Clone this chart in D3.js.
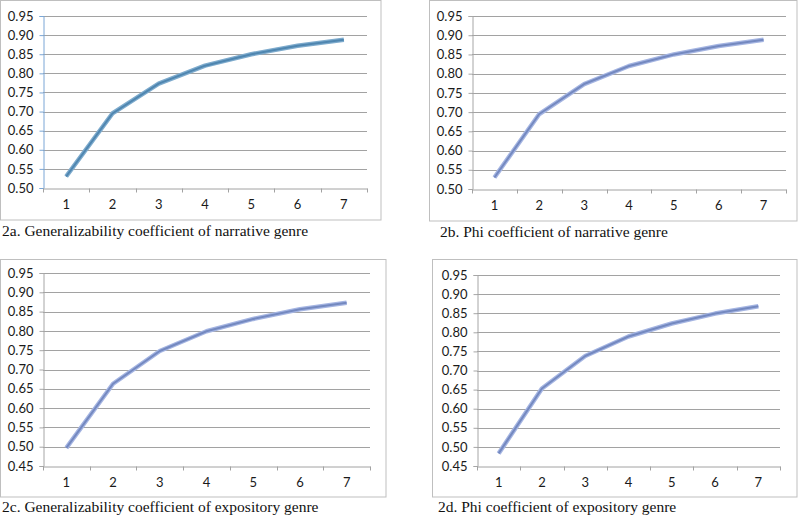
<!DOCTYPE html>
<html><head><meta charset="utf-8">
<script src="https://cdn.jsdelivr.net/npm/d3@7"></script>
<style>body{margin:0;background:#fff}svg{display:block}</style>
</head><body>
<svg id="c" width="800" height="517"></svg>
<script>
const categories = [1, 2, 3, 4, 5, 6, 7];
const seriesA = [0.530, 0.695, 0.773, 0.820, 0.850, 0.872, 0.888];
const seriesB = [0.530, 0.695, 0.773, 0.820, 0.850, 0.872, 0.888];
const seriesC = [0.497, 0.663, 0.748, 0.799, 0.831, 0.856, 0.873];
const seriesD = [0.483, 0.653, 0.738, 0.789, 0.823, 0.849, 0.868];
const ticksTop = [0.50, 0.55, 0.60, 0.65, 0.70, 0.75, 0.80, 0.85, 0.90, 0.95];
const ticksBottom = [0.45, 0.50, 0.55, 0.60, 0.65, 0.70, 0.75, 0.80, 0.85, 0.90, 0.95];
const captions = [
  "2a. Generalizability coefficient of narrative genre",
  "2b. Phi coefficient of narrative genre",
  "2c. Generalizability coefficient of expository genre",
  "2d. Phi coefficient of expository genre"
];

const panels = [
  {data: seriesA, ticks: ticksTop, cap: captions[0], frame:[0.5,0.5,381,220], x0:43, x1:367, yTop:16, yBot:188, capX:2, capY:236, yAxisColor:"#7aa6d6", outer:"#7eabcd", inner:"#4f86b0"},
  {data: seriesB, ticks: ticksTop, cap: captions[1], frame:[429.5,0.5,797,221], x0:472, x1:786, yTop:16, yBot:189, capX:440, capY:237, yAxisColor:"#a6a6a6", outer:"#a5b5e2", inner:"#7489c0"},
  {data: seriesC, ticks: ticksBottom, cap: captions[2], frame:[0.5,259.5,386,497], x0:43, x1:370, yTop:273, yBot:466, capX:2, capY:512, yAxisColor:"#a6a6a6", outer:"#a5b5e2", inner:"#7489c0"},
  {data: seriesD, ticks: ticksBottom, cap: captions[3], frame:[432.5,259.5,797,497], x0:477, x1:780, yTop:275, yBot:466, capX:438, capY:512, yAxisColor:"#a6a6a6", outer:"#a5b5e2", inner:"#7489c0"}
];

const svg = d3.select("#c");
const tickFont = "Lato, 'Open Sans', sans-serif";

panels.forEach(p => {
  const g = svg.append("g");
  const [fx0, fy0, fx1, fy1] = p.frame;
  g.append("rect").attr("x", fx0).attr("y", fy0).attr("width", fx1 - fx0).attr("height", fy1 - fy0)
    .attr("fill", "#fff").attr("stroke", "#bfbfbf").attr("stroke-width", 1);

  const x = d3.scaleBand().domain(categories).range([p.x0, p.x1]);
  const y = d3.scaleLinear().domain([d3.min(p.ticks), d3.max(p.ticks)]).range([p.yBot, p.yTop]);

  g.append("g").selectAll("line").data(p.ticks.slice(1)).join("line")
    .attr("x1", p.x0).attr("x2", p.x1)
    .attr("y1", d => Math.round(y(d)) + 0.5).attr("y2", d => Math.round(y(d)) + 0.5)
    .attr("stroke", "#a2a2a2").attr("stroke-width", 1);

  const ya = g.append("g").attr("transform", `translate(${p.x0 + 0.5},0)`)
    .call(d3.axisLeft(y).tickValues(p.ticks).tickFormat(d3.format(".2f")).tickSize(4).tickPadding(6));
  ya.select(".domain").attr("stroke", p.yAxisColor);
  ya.selectAll(".tick line").attr("stroke", p.yAxisColor);
  ya.selectAll(".tick text").attr("fill", "#1a1a1a").style("font-family", tickFont).style("font-size", "13px");

  const xa = g.append("g").attr("transform", `translate(0,${Math.round(p.yBot) + 0.5})`)
    .call(d3.axisBottom(x).tickSize(0).tickPadding(11));
  xa.select(".domain").attr("stroke", "#a2a2a2");
  xa.selectAll(".tick text").attr("fill", "#1a1a1a").style("font-family", tickFont).style("font-size", "13px");
  const bounds = categories.map(c => x(c)).concat([p.x1]);
  xa.append("g").selectAll("line").data(bounds).join("line")
    .attr("x1", d => Math.round(d) + 0.5).attr("x2", d => Math.round(d) + 0.5)
    .attr("y1", 0).attr("y2", 4).attr("stroke", "#a2a2a2");

  const line = d3.line().x((d, i) => x(categories[i]) + x.bandwidth() / 2).y(d => y(d));
  g.append("path").datum(p.data).attr("d", line).attr("fill", "none")
    .attr("stroke", p.outer).attr("stroke-width", 4.5).attr("stroke-linejoin", "round");
  g.append("path").datum(p.data).attr("d", line).attr("fill", "none")
    .attr("stroke", p.inner).attr("stroke-width", 2).attr("stroke-linejoin", "round");

  g.append("text").attr("x", p.capX).attr("y", p.capY).text(p.cap)
    .style("font-family", "'Liberation Serif', 'Times New Roman', serif").style("font-size", "15.5px").attr("fill", "#111");
});
</script>
</body></html>
